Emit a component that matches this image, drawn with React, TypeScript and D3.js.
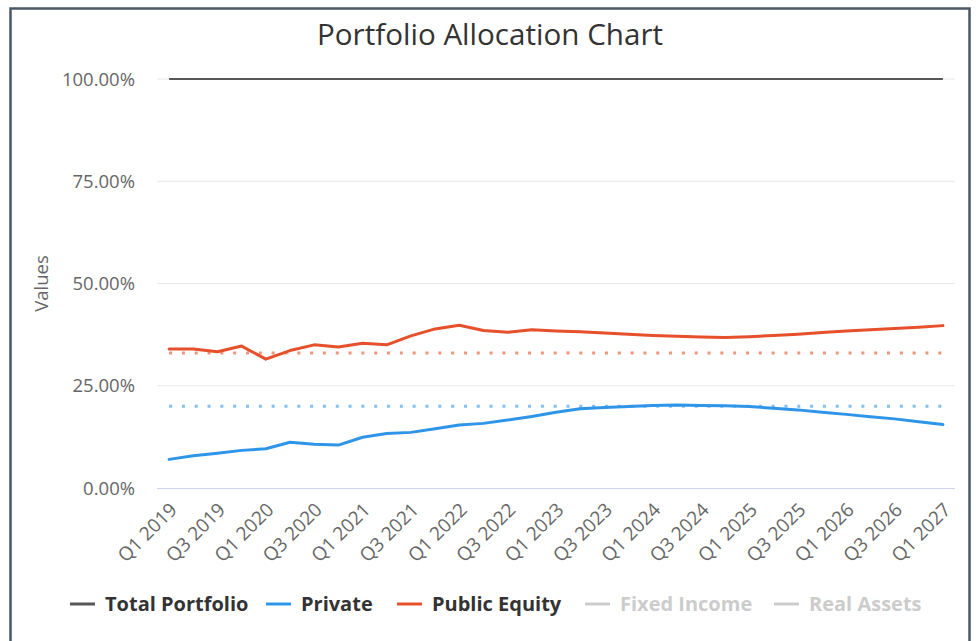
import React from "react";
import * as d3 from "d3";

const quarters: string[] = [];
for (let y = 2019; y <= 2027; y++) {
  for (let q = 1; q <= 4; q++) {
    if (y === 2027 && q > 1) break;
    quarters.push(`Q${q} ${y}`);
  }
}

const totalPortfolio = quarters.map(() => 100);
const privateValues = [
  7.0, 7.9, 8.5, 9.2, 9.6, 11.2, 10.7, 10.5, 12.4, 13.3, 13.6, 14.5, 15.4, 15.8, 16.6, 17.5,
  18.5, 19.4, 19.7, 19.9, 20.2, 20.3, 20.2, 20.1, 19.9, 19.5, 19.1, 18.5, 18.0, 17.4, 16.9, 16.2, 15.5,
];
const publicEquity = [
  34.0, 34.0, 33.3, 34.7, 31.5, 33.6, 35.0, 34.5, 35.4, 35.0, 37.2, 38.9, 39.8, 38.5, 38.1, 38.7,
  38.4, 38.2, 37.9, 37.6, 37.3, 37.1, 36.9, 36.8, 37.0, 37.3, 37.6, 38.0, 38.4, 38.7, 39.0, 39.3, 39.7,
];
const privateTarget = quarters.map(() => 20);
const publicTarget = quarters.map(() => 33);

const yTicks = [0, 25, 50, 75, 100];

const legendItems = [
  { name: "Total Portfolio", color: "#575757", active: true },
  { name: "Private", color: "#2f95e9", active: true },
  { name: "Public Equity", color: "#e6502b", active: true },
  { name: "Fixed Income", color: "#cccccc", active: false },
  { name: "Real Assets", color: "#cccccc", active: false },
];
const legendX = [70, 266, 397, 585, 774];

const FONT = "'Open Sans', sans-serif";

export default function App() {
  const W = 979, H = 641;
  const plotL = 157, plotR = 955, plotT = 79, plotB = 488;

  const x = d3.scaleBand<string>().domain(quarters).range([plotL, plotR]);
  const cx = (q: string) => (x(q) as number) + x.bandwidth() / 2;
  const y = d3.scaleLinear().domain([0, 100]).range([plotB, plotT]);

  const line = d3
    .line<number>()
    .x((_, i) => cx(quarters[i]))
    .y((d) => y(d));

  React.useEffect(() => {
    document.body.style.margin = "0";
  }, []);

  return (
    <svg width={W} height={H} style={{ position: "absolute", left: 0, top: 0, background: "#fff" }} fontFamily={FONT}>
      <rect x={10.5} y={8.5} width={959} height={700} fill="#fff" stroke="#4a5866" strokeWidth={2.5} />
      <text x={490} y={45} textAnchor="middle" fontSize={29.6} fill="#333">
        Portfolio Allocation Chart
      </text>

      {yTicks.map((t) =>
        t === 0 ? null : (
          <line key={t} x1={plotL} x2={plotR} y1={y(t)} y2={y(t)} stroke="#e6e6e6" strokeWidth={1} />
        )
      )}
      <line x1={plotL} x2={plotR} y1={plotB + 0.5} y2={plotB + 0.5} stroke="#ccd6eb" strokeWidth={1} />

      {yTicks.map((t) => (
        <text key={t} x={135} y={y(t) + 6.5} textAnchor="end" fontSize={18.5} fill="#666">
          {t.toFixed(2)}%
        </text>
      ))}
      <text
        transform={`translate(48,${(plotT + plotB) / 2}) rotate(-90)`}
        textAnchor="middle"
        fontSize={18.5}
        fill="#666"
      >
        Values
      </text>

      {quarters.map((q, i) =>
        i % 2 === 0 ? (
          <text
            key={q}
            transform={`translate(${cx(q) + 9},${plotB + 23}) rotate(-45)`}
            textAnchor="end"
            fontSize={19}
            fill="#666"
          >
            {q}
          </text>
        ) : null
      )}

      <path d={line(publicTarget) || ""} fill="none" stroke="#e6502b" strokeOpacity={0.6} strokeWidth={3} strokeDasharray="3 9.82" />
      <path d={line(privateTarget) || ""} fill="none" stroke="#2f95e9" strokeOpacity={0.6} strokeWidth={3} strokeDasharray="3 9.82" />
      <path d={line(totalPortfolio) || ""} fill="none" stroke="#575757" strokeWidth={2} />
      <path d={line(privateValues) || ""} fill="none" stroke="#2f95e9" strokeWidth={3} strokeLinejoin="round" strokeLinecap="round" />
      <path d={line(publicEquity) || ""} fill="none" stroke="#e6502b" strokeWidth={3} strokeLinejoin="round" strokeLinecap="round" />

      {legendItems.map((it, i) => (
        <g key={it.name} transform={`translate(${legendX[i]},604)`}>
          <line x1={0} x2={25} y1={0} y2={0} stroke={it.color} strokeWidth={3} />
          <text x={35} y={7} fontSize={20} fontWeight="bold" fill={it.active ? "#333" : "#cccccc"}>
            {it.name}
          </text>
        </g>
      ))}
    </svg>
  );
}
